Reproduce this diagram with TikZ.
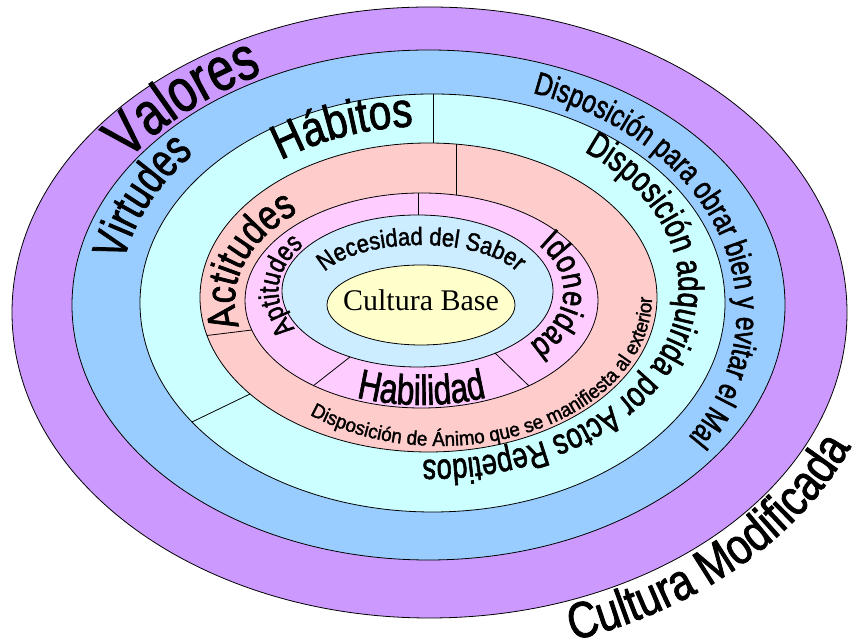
\documentclass[tikz,border=0pt]{standalone}
\usepackage{fontspec}
\setmainfont{Liberation Sans}
\newfontfamily\tms{Liberation Serif}
\usetikzlibrary{decorations.text}
\definecolor{cPurple}{HTML}{CC99FF}
\definecolor{cBlue}{HTML}{99CCFF}
\definecolor{cCyan}{HTML}{CCFFFF}
\definecolor{cSalmon}{HTML}{FFCCCC}
\definecolor{cPink}{HTML}{FFCCFF}
\definecolor{cLight}{HTML}{CCECFF}
\definecolor{cYellow}{HTML}{FFFFCC}
% #1,#2 centre, #3 x radius, #4 y radius, #5 start angle, #6 end angle,
% #7 font size, #8 horizontal stretch, #9 text
\newcommand{\ArcText}[9]{%
  \path[decorate, decoration={text along path, text align=center,
     text={|\fontspec[FakeStretch=#8,FakeBold=1.6]{Liberation Sans}\fontsize{#7}{#7}\selectfont|#9}}]
    (#1,#2) ++(#5:#3 and #4) arc[start angle=#5, end angle=#6, x radius=#3, y radius=#4];}
\begin{document}
\begin{tikzpicture}[x=1pt,y=1pt,
  ring/.style={draw=black, line width=0.8pt},
  divider/.style={draw=black, line width=0.8pt}]
\useasboundingbox (0,0) rectangle (857,644);
% rings
\coordinate (cO) at (429.5,331.5);
\coordinate (cB) at (428.5,339);
\coordinate (cC) at (432.5,341);
\coordinate (cS) at (428.5,346.5);
\coordinate (cP) at (421.5,343.5);
\coordinate (cL) at (417.5,353);
\coordinate (cY) at (421,339);
\path[ring, fill=cPurple] (cO) ellipse [x radius=417.5, y radius=305.5];
\path[ring, fill=cBlue]   (cB) ellipse [x radius=356.5, y radius=255];
\path[ring, fill=cCyan]   (cC) ellipse [x radius=292.5, y radius=209];
\path[ring, fill=cSalmon] (cS) ellipse [x radius=228.5, y radius=154.5];
\path[ring, fill=cPink]   (cP) ellipse [x radius=176.5, y radius=107.5];
\path[ring, fill=cLight]  (cL) ellipse [x radius=135.5, y radius=76];
\path[ring, fill=cYellow] (cY) ellipse [x radius=94, y radius=40];
% dividers
\coordinate (d1a) at (433,550);   \coordinate (d1b) at (433,501);
\coordinate (d2a) at (456,500);   \coordinate (d2b) at (456,449);
\coordinate (d3a) at (418,451);   \coordinate (d3b) at (418,429);
\coordinate (d4a) at (192,222);   \coordinate (d4b) at (250,250);
\coordinate (d5a) at (207,308.5); \coordinate (d5b) at (252,314);
\coordinate (d6a) at (313,258);   \coordinate (d6b) at (350,287);
\coordinate (d7a) at (495,291);   \coordinate (d7b) at (529,258);
\path[divider] (d1a) -- (d1b);
\path[divider] (d2a) -- (d2b);
\path[divider] (d3a) -- (d3b);
\path[divider] (d4a) -- (d4b);
\path[divider] (d5a) -- (d5b);
\path[divider] (d6a) -- (d6b);
\path[divider] (d7a) -- (d7b);
% curved labels
\ArcText{428.5}{339}{361.5}{260}{175}{95}{61}{0.78}{Valores}
\ArcText{432.5}{341}{314}{230}{187}{125}{48}{0.74}{Virtudes}
\ArcText{432.5}{332}{304}{232}{110}{-75}{32}{0.77}{Disposición para obrar bien y evitar el Mal}
\ArcText{428.5}{346.5}{245.5}{171.5}{150}{74}{49}{0.83}{Hábitos}
\ArcText{428.5}{357}{250}{173}{90}{-130}{36}{0.76}{Disposición adquirida por Actos Repetidos}
\ArcText{421.5}{343.5}{186.5}{117.5}{210}{118}{42}{0.81}{Actitudes}
\ArcText{440}{346.5}{212}{148.5}{-140}{15}{20}{0.94}{Disposición de Ánimo que se manifiesta al exterior}
\ArcText{417.5}{353}{139}{79}{225}{129}{28}{0.82}{Aptitudes}
\ArcText{417.5}{353}{146}{82}{55}{-60}{34}{0.8}{Idoneidad}
\ArcText{421.5}{343.5}{173.5}{104.5}{-130}{-50}{42}{0.75}{Habilidad}
\ArcText{421}{354}{105}{45}{180}{0}{25}{0.88}{Necesidad del Saber}
\ArcText{429.5}{331.5}{457.5}{345.5}{-94}{6}{51}{0.82}{Cultura Modificada}
% centre
\node[font=\tms\fontsize{30}{32}\selectfont, inner sep=0pt] (cb) at (421,344) {Cultura Base};
\end{tikzpicture}
\end{document}
